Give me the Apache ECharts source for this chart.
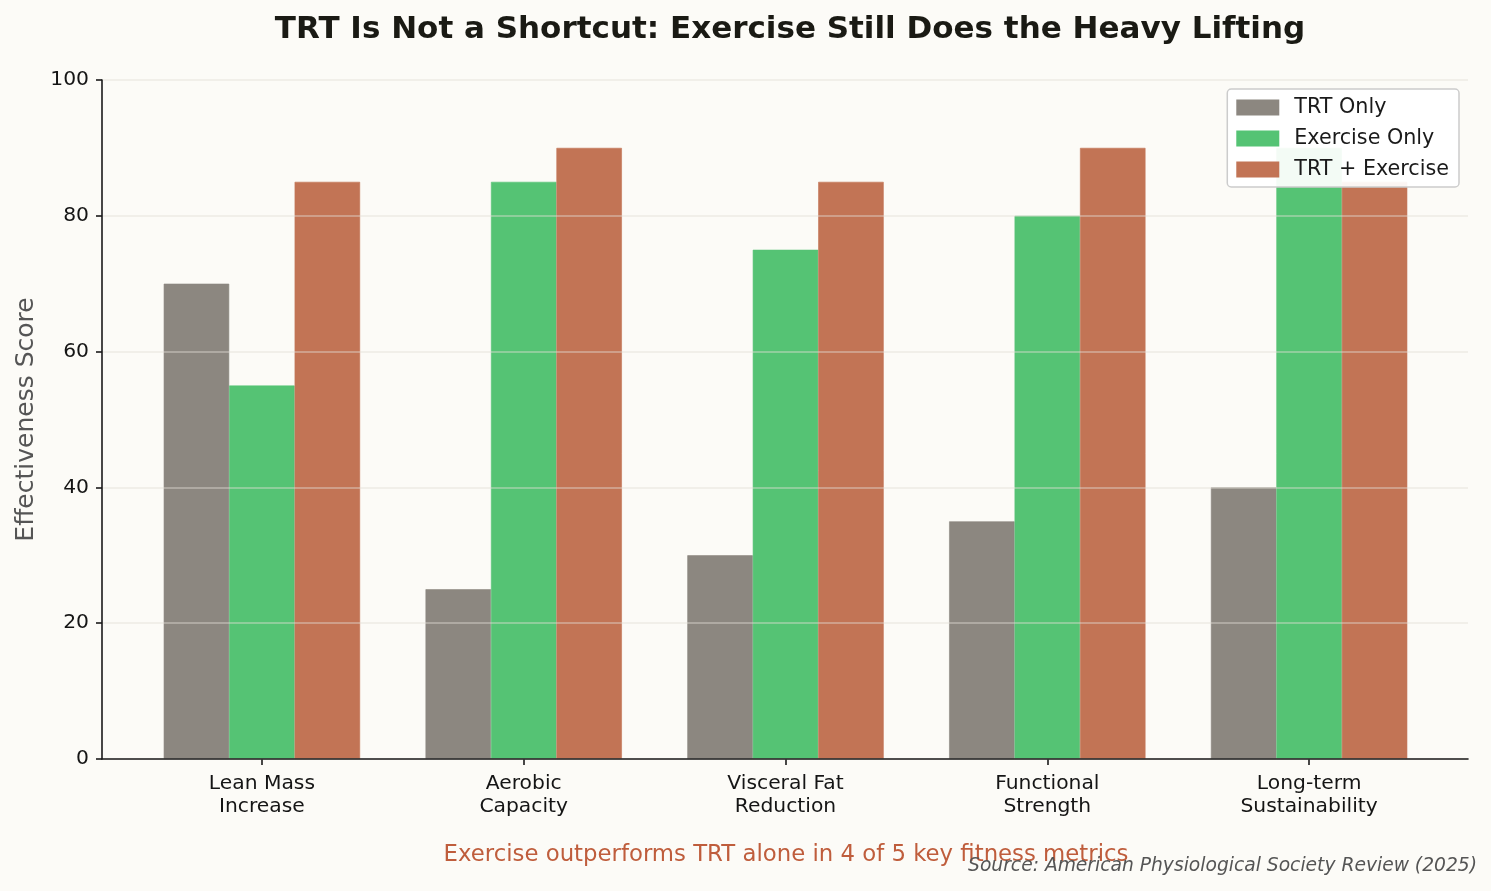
<!DOCTYPE html>
<html lang="en">
<head>
    <meta charset="UTF-8">
    <title>TRT vs Exercise</title>
    <script src="https://cdn.jsdelivr.net/npm/echarts@6/dist/echarts.min.js"></script>
    <style>
        html, body { margin: 0; padding: 0; background: #fcfbf7; }
        #main { width: 1491px; height: 891px; }
    </style>
</head>
<body>
<div id="main"></div>
<script type="text/javascript">
    // data
    var categories = ['Lean Mass\nIncrease', 'Aerobic\nCapacity', 'Visceral Fat\nReduction', 'Functional\nStrength', 'Long-term\nSustainability'];
    var trtOnly = [70, 25, 30, 35, 40];
    var exerciseOnly = [55, 85, 75, 80, 90];
    var trtPlusExercise = [85, 90, 85, 90, 85];
    var yTicks = [0, 20, 40, 60, 80, 100];

    var font = 'DejaVu Sans';
    var myChart = echarts.init(document.getElementById('main'));

    var option = {
        backgroundColor: '#fcfbf7',
        textStyle: { fontFamily: font },
        title: {
            text: 'TRT Is Not a Shortcut: Exercise Still Does the Heavy Lifting',
            left: 785,
            textAlign: 'center',
            top: 9,
            textStyle: { fontFamily: font, fontSize: 31, fontWeight: 'bold', color: '#1a1a14' }
        },
        legend: {
            orient: 'vertical',
            right: 32,
            top: 89,
            itemWidth: 41,
            itemHeight: 14,
            itemGap: 8,
            padding: [7, 10, 6, 9],
            backgroundColor: 'rgba(255,255,255,0.93)',
            borderColor: '#cccccc',
            borderWidth: 1.5,
            borderRadius: 4,
            icon: 'rect',
            textStyle: { fontFamily: font, fontSize: 20.7, color: '#1a1a1a', lineHeight: 23, padding: [0, 0, 0, 11] },
            data: ['TRT Only', 'Exercise Only', 'TRT + Exercise']
        },
        grid: [
            // bar grid, sized so categories match the reference spacing
            { left: 131, right: 51, top: 80, bottom: 132 },
            // frame grid for the visible y axis and baseline
            { left: 102, right: 23, top: 80, bottom: 132 }
        ],
        xAxis: [
            {
                type: 'category',
                gridIndex: 0,
                data: categories,
                axisLine: { show: false },
                axisTick: { show: true, alignWithLabel: true, length: 6, lineStyle: { color: '#1a1a1a', width: 1.6 } },
                axisLabel: { fontFamily: font, fontSize: 20.3, color: '#151515', lineHeight: 23, margin: 13 }
            },
            {
                type: 'value',
                gridIndex: 1,
                min: 0,
                max: 1,
                z: 6,
                axisLine: { show: true, onZero: false, lineStyle: { color: '#1a1a1a', width: 1.6 } },
                axisTick: { show: false },
                axisLabel: { show: false },
                splitLine: { show: false }
            }
        ],
        yAxis: [
            {
                type: 'value',
                gridIndex: 0,
                min: 0,
                max: 100,
                show: false
            },
            {
                type: 'value',
                gridIndex: 1,
                min: yTicks[0],
                max: yTicks[yTicks.length - 1],
                interval: 20,
                z: 5,
                name: 'Effectiveness Score',
                nameLocation: 'middle',
                nameGap: 63,
                nameTextStyle: { fontFamily: font, fontSize: 25, color: '#555555' },
                axisLine: { show: true, lineStyle: { color: '#1a1a1a', width: 1.6 } },
                axisTick: { show: true, length: 6, lineStyle: { color: '#1a1a1a', width: 1.6 } },
                axisLabel: { fontFamily: font, fontSize: 20.3, color: '#151515', margin: 13 },
                splitLine: { show: true, lineStyle: { color: 'rgba(225,222,215,0.55)', width: 1.5 } }
            }
        ],
        series: [
            {
                name: 'TRT Only',
                type: 'bar',
                xAxisIndex: 0, yAxisIndex: 0,
                data: trtOnly,
                barWidth: '25%',
                barGap: '0%',
                itemStyle: { color: '#8c8780', borderColor: '#8c8780', borderWidth: 0.6 }
            },
            {
                name: 'Exercise Only',
                type: 'bar',
                xAxisIndex: 0, yAxisIndex: 0,
                data: exerciseOnly,
                barWidth: '25%',
                barGap: '0%',
                itemStyle: { color: '#55c374', borderColor: '#55c374', borderWidth: 0.6 }
            },
            {
                name: 'TRT + Exercise',
                type: 'bar',
                xAxisIndex: 0, yAxisIndex: 0,
                data: trtPlusExercise,
                barWidth: '25%',
                barGap: '0%',
                itemStyle: { color: '#c27455', borderColor: '#c27455', borderWidth: 0.6 }
            }
        ],
        graphic: [
            {
                type: 'text',
                x: 786,
                y: 855,
                z: 10,
                style: {
                    text: 'Exercise outperforms TRT alone in 4 of 5 key fitness metrics',
                    font: '22.8px "DejaVu Sans"',
                    fill: '#bf5d3c',
                    align: 'center',
                    verticalAlign: 'middle'
                }
            },
            {
                type: 'text',
                x: 1477,
                y: 866,
                z: 11,
                style: {
                    text: 'Source: American Physiological Society Review (2025)',
                    font: 'italic 18.7px "DejaVu Sans"',
                    fill: '#555555',
                    align: 'right',
                    verticalAlign: 'middle'
                }
            }
        ]
    };

    myChart.setOption(option);
</script>
</body>
</html>
